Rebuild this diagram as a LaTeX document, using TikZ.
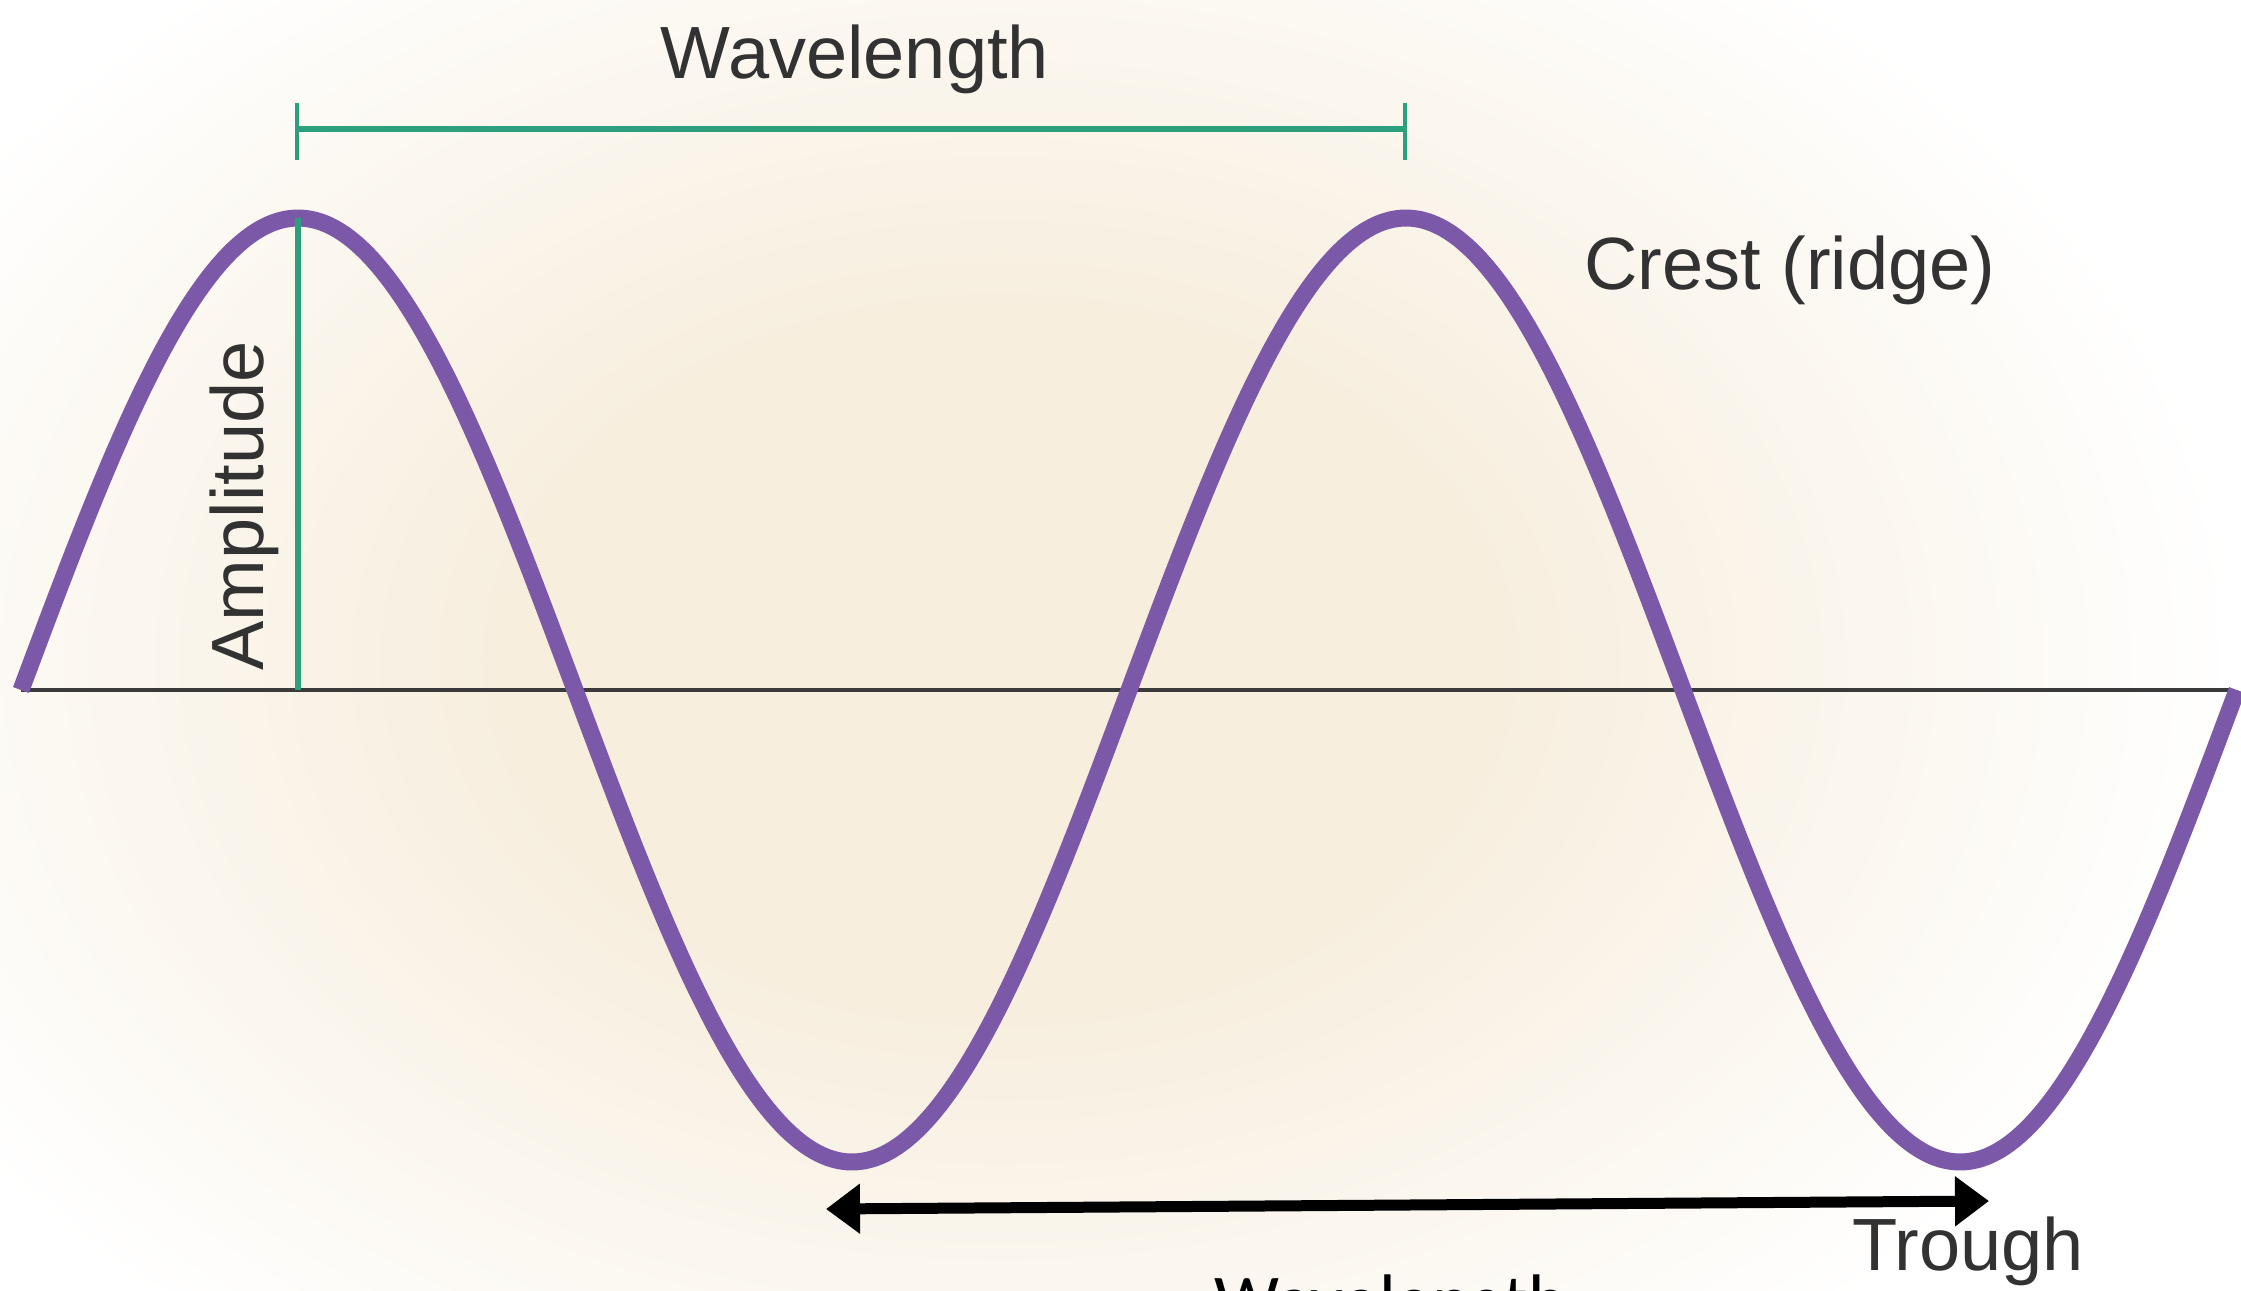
\documentclass[tikz,border=0pt]{standalone}
\usepackage{fontspec}
\setmainfont{Liberation Sans}
\newfontfamily\calib{Carlito}
\usetikzlibrary{arrows.meta}
\definecolor{creamc}{RGB}{247,238,222}
\definecolor{wavepurple}{RGB}{124,88,168}
\definecolor{tealc}{RGB}{44,160,124}
\definecolor{axisgray}{RGB}{58,58,58}
\definecolor{labelgray}{RGB}{50,50,50}
\pgfdeclareradialshading{bgshade}{\pgfpoint{0bp}{0bp}}{color(0bp)=(creamc); color(10bp)=(creamc); color(25bp)=(white); color(50bp)=(white)}
\tikzset{
  wavestyle/.style={draw=wavepurple, line width=8.5pt},
  axisstyle/.style={draw=axisgray, line width=2pt},
  tealline/.style={draw=tealc, line width=3pt},
  tealtick/.style={draw=tealc, line width=2pt},
  lbl/.style={text=labelgray, font=\fontsize{37}{40}\selectfont, inner sep=0pt},
  blackarrow/.style={draw=black, line width=5.5pt, {Triangle[length=17pt,width=24pt]}-{Triangle[length=17pt,width=24pt]}},
}
\begin{document}
\begin{tikzpicture}[x=0.5pt,y=-0.5pt]
\useasboundingbox (0,0) rectangle (2241,1290);
\fill[white] (0,0) rectangle (2241,1290);
\shade[shading=bgshade] (1000,660) ellipse [x radius=620pt, y radius=440pt];
% axis
\coordinate (axL) at (21,690);
\coordinate (axR) at (2232,690);
\draw[axisstyle] (axL) -- (axR);
% wave
\draw[wavestyle] plot[domain=21:2237, samples=240, smooth] (\x, {690-472*sin((\x-21)/1108*360)});
% amplitude
\coordinate (crest1) at (298,218);
\coordinate (ampbase) at (298,690);
\draw[tealline] (crest1) -- (ampbase);
\node[lbl, rotate=90, anchor=base] (amp) at (263,506) {Amplitude};
% wavelength bar top
\coordinate (wlA) at (297,129);
\coordinate (wlB) at (1405,129);
\coordinate (wlAt) at (297,103);
\coordinate (wlAb) at (297,160);
\coordinate (wlBt) at (1405,103);
\coordinate (wlBb) at (1405,160);
\draw[tealline] (wlA) -- (wlB);
\draw[tealtick] (wlAt) -- (wlAb);
\draw[tealtick] (wlBt) -- (wlBb);
\node[lbl, anchor=base] (wltop) at (855,78) {Wavelength};
% crest label
\node[lbl, anchor=base] (crest) at (1790,289) {Crest (ridge)};
% trough label
\node[lbl, anchor=base] (trough) at (1968,1270) {Trough};
% black arrow
\coordinate (arL) at (826,1209);
\coordinate (arR) at (1989,1201);
\draw[blackarrow] (arL) -- (arR);
\node[text=black, font=\calib\fontsize{36.5}{40}\selectfont, inner sep=0pt, anchor=base west] (wlbot) at (1214,1325) {Wavelength};
\end{tikzpicture}
\end{document}
